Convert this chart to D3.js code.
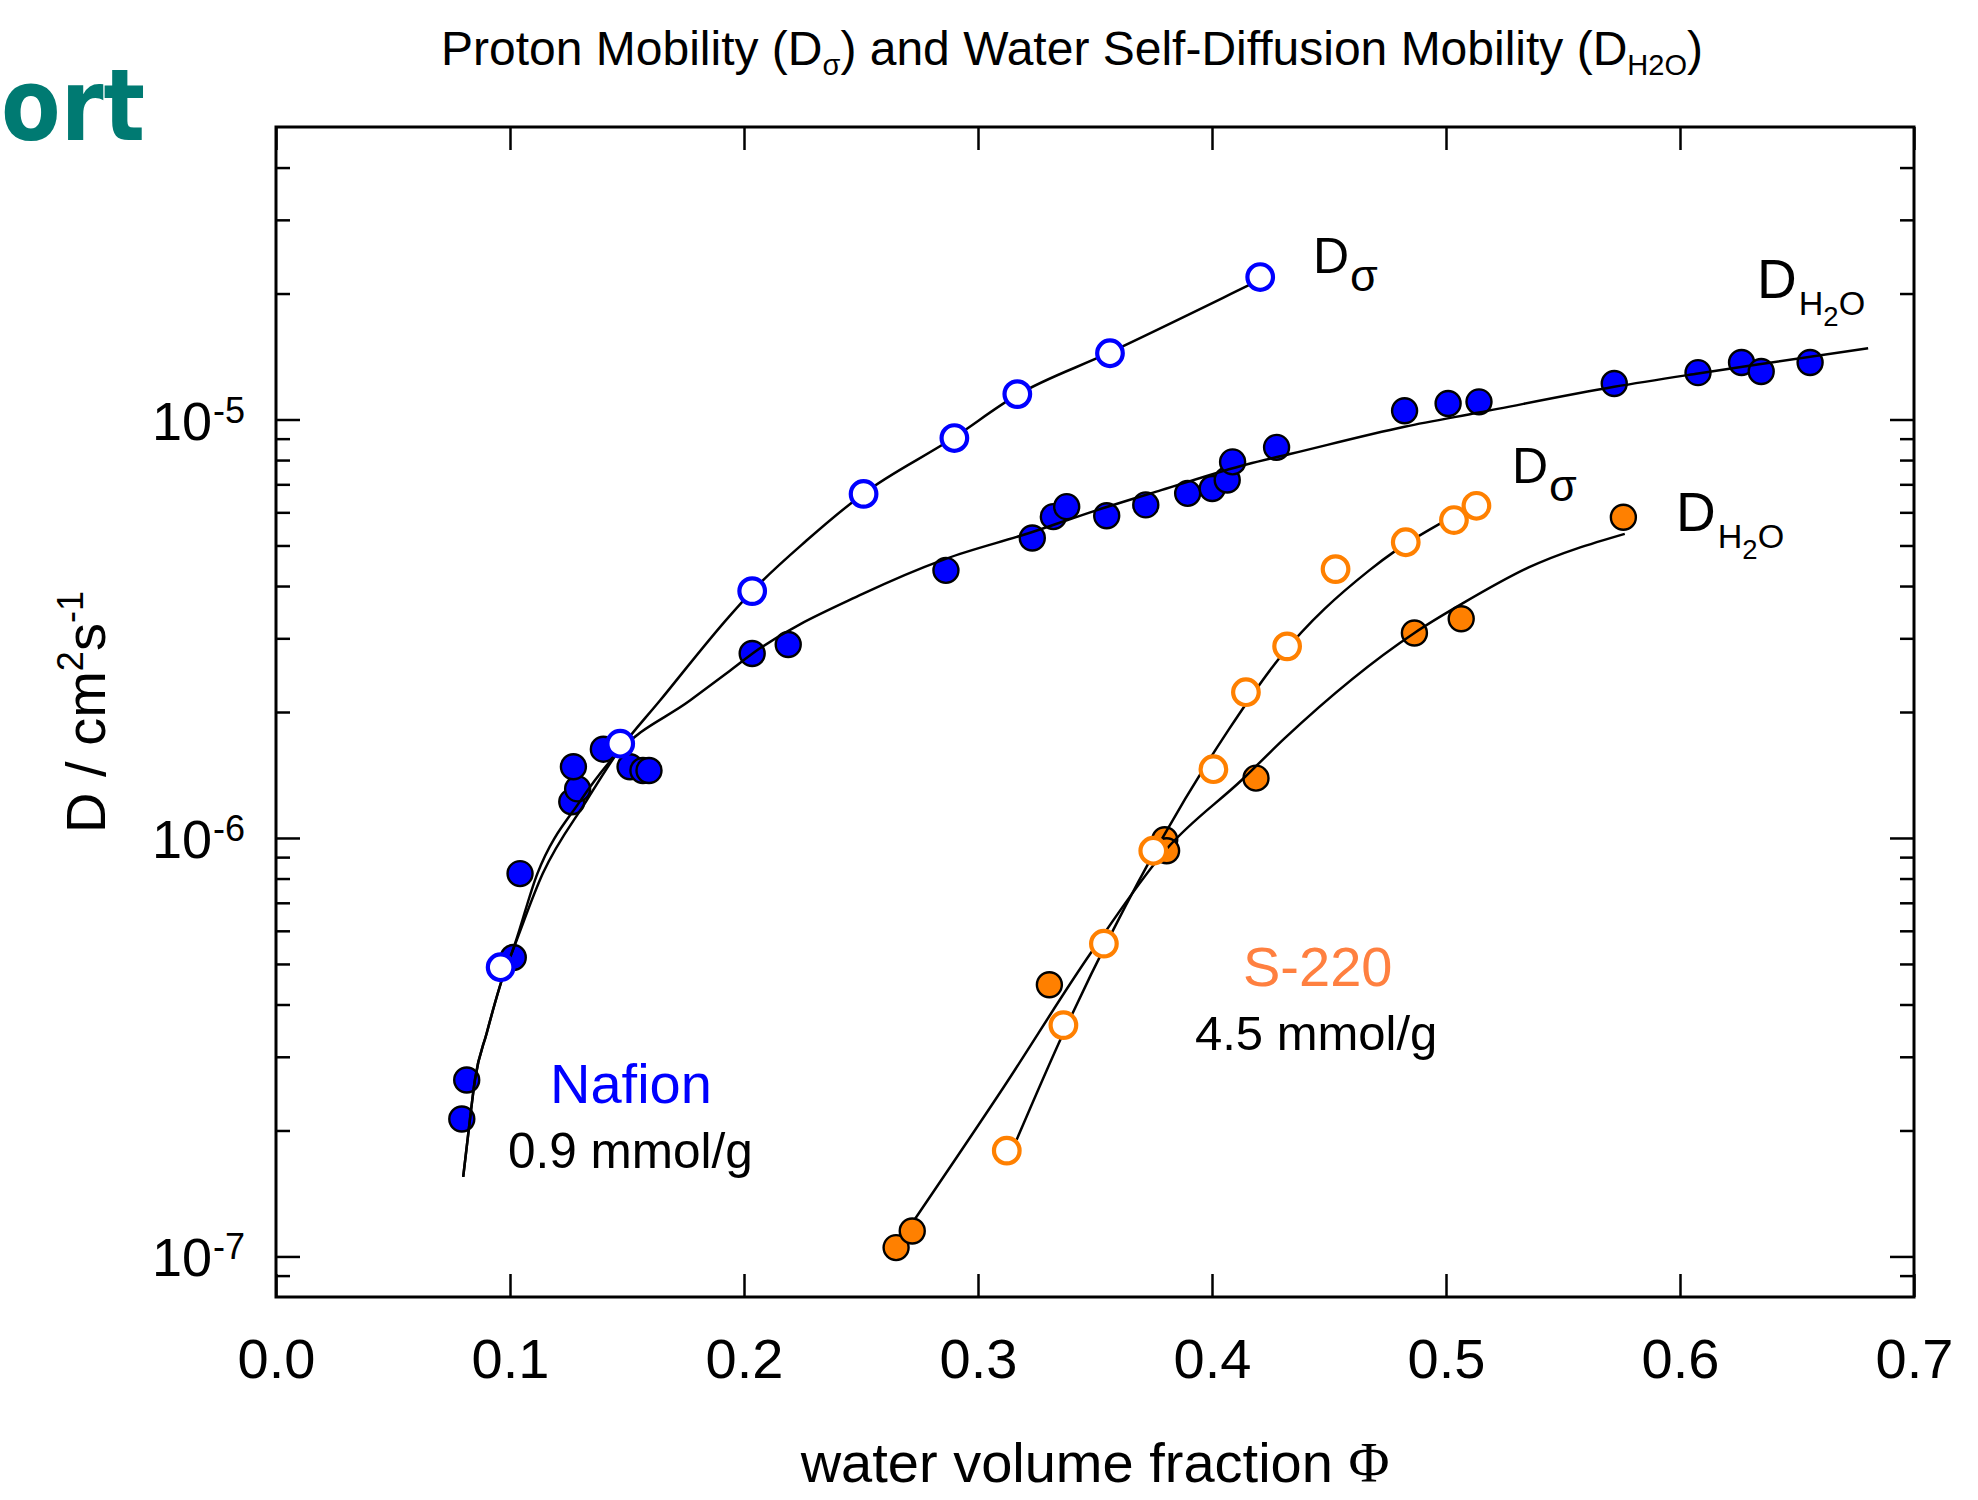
<!DOCTYPE html>
<html><head><meta charset="utf-8">
<script src="https://cdn.jsdelivr.net/npm/d3@7"></script>
<style>body{margin:0;background:#fff} svg{display:block}</style>
</head><body>
<svg id="chart" width="1978" height="1500"></svg>
<script>
// ---------- data ----------
const xTickValues = [0.0, 0.1, 0.2, 0.3, 0.4, 0.5, 0.6, 0.7];
const xTickLabels = ["0.0", "0.1", "0.2", "0.3", "0.4", "0.5", "0.6", "0.7"];
const yMajorValues = [1e-7, 1e-6, 1e-5];
const yMajorExponents = ["-7", "-6", "-5"];
const yMinorMultipliers = [2, 3, 4, 5, 6, 7, 8, 9];
const yDecades = [1e-8, 1e-7, 1e-6, 1e-5];

// Nafion 0.9 mmol/g : proton mobility D_sigma (open) and water D_H2O (filled)
const nafionSigma = [
  [0.0960, 4.91e-7], [0.1471, 1.68e-6], [0.2035, 3.89e-6], [0.2511, 6.64e-6],
  [0.2899, 9.03e-6], [0.3168, 1.15e-5], [0.3564, 1.44e-5], [0.4206, 2.19e-5]
];
const nafionWater = [
  [0.0794, 2.13e-7], [0.0815, 2.64e-7], [0.1014, 5.18e-7], [0.1043, 8.22e-7],
  [0.1264, 1.22e-6], [0.1289, 1.31e-6], [0.1271, 1.48e-6], [0.1399, 1.63e-6],
  [0.1513, 1.48e-6], [0.1568, 1.45e-6], [0.1594, 1.45e-6], [0.2035, 2.76e-6],
  [0.2189, 2.90e-6], [0.2863, 4.36e-6], [0.3232, 5.21e-6], [0.3322, 5.86e-6],
  [0.3379, 6.19e-6], [0.3550, 5.89e-6], [0.3717, 6.25e-6], [0.3896, 6.66e-6],
  [0.4001, 6.84e-6], [0.4065, 7.17e-6], [0.4088, 7.92e-6], [0.4276, 8.58e-6],
  [0.4823, 1.049e-5], [0.5009, 1.092e-5], [0.5141, 1.102e-5], [0.5719, 1.219e-5],
  [0.6077, 1.294e-5], [0.6263, 1.368e-5], [0.6347, 1.302e-5], [0.6556, 1.368e-5]
];
// S-220 4.5 mmol/g
const s220Sigma = [
  [0.3123, 1.79e-7], [0.3365, 3.57e-7], [0.3538, 5.59e-7], [0.3749, 9.32e-7],
  [0.4006, 1.46e-6], [0.4145, 2.23e-6], [0.4321, 2.87e-6], [0.4528, 4.39e-6],
  [0.4828, 5.09e-6], [0.5034, 5.75e-6], [0.5130, 6.22e-6]
];
const s220Water = [
  [0.2650, 1.05e-7], [0.2719, 1.15e-7], [0.3305, 4.46e-7], [0.3798, 9.90e-7],
  [0.3806, 9.32e-7], [0.4188, 1.39e-6], [0.4865, 3.09e-6], [0.5065, 3.34e-6],
  [0.5758, 5.84e-6]
];

// fitted curves
const nafionSigmaFit = [
  [0.0800, 1.55e-7], [0.0829, 2.13e-7], [0.0850, 2.64e-7], [0.0900, 3.41e-7],
  [0.0983, 4.90e-7], [0.1007, 5.30e-7], [0.1140, 8.22e-7], [0.1328, 1.23e-6],
  [0.1456, 1.59e-6], [0.1641, 2.13e-6], [0.1940, 3.40e-6], [0.2035, 3.89e-6],
  [0.2266, 5.13e-6], [0.2509, 6.64e-6], [0.2894, 9.03e-6], [0.3162, 1.14e-5],
  [0.3556, 1.44e-5], [0.4151, 2.085e-5], [0.4185, 2.13e-5]
];
const nafionWaterFit = [
  [0.0800, 1.55e-7], [0.0829, 2.13e-7], [0.0850, 2.64e-7], [0.0900, 3.41e-7],
  [0.0983, 4.90e-7], [0.1007, 5.30e-7], [0.1117, 8.22e-7], [0.1302, 1.23e-6],
  [0.1456, 1.59e-6], [0.1769, 2.13e-6], [0.1940, 2.51e-6], [0.2035, 2.755e-6],
  [0.2507, 3.83e-6], [0.2859, 4.64e-6], [0.3226, 5.37e-6], [0.3499, 6.05e-6],
  [0.3783, 6.78e-6], [0.4151, 7.82e-6], [0.4333, 8.27e-6], [0.4823, 9.61e-6],
  [0.5141, 1.039e-5], [0.5719, 1.197e-5], [0.6077, 1.288e-5], [0.6361, 1.361e-5],
  [0.6804, 1.48e-5]
];
const s220SigmaFit = [
  [0.3165, 1.90e-7], [0.3365, 3.42e-7], [0.3578, 6.03e-7], [0.3791, 1.006e-6],
  [0.4070, 1.81e-6], [0.4290, 2.70e-6], [0.4672, 4.36e-6], [0.4785, 4.86e-6],
  [0.4984, 5.68e-6]
];
const s220WaterFit = [
  [0.2731, 1.23e-7], [0.3108, 2.53e-7], [0.3479, 5.28e-7], [0.3806, 9.41e-7],
  [0.4134, 1.387e-6], [0.4310, 1.73e-6], [0.4865, 3.09e-6], [0.5069, 3.63e-6],
  [0.5353, 4.43e-6], [0.5764, 5.33e-6]
];

// ---------- drawing ----------
const FONT = "'Liberation Sans', Arial, Helvetica, sans-serif";
const BLUE = "#0000ff", ORANGE = "#ff8000", LABEL_ORANGE = "#ff8040", TEAL = "#007a72";
const L = 276, R = 1914, T = 127, B = 1297;

const svg = d3.select("#chart");
svg.append("rect").attr("width", 1978).attr("height", 1500).attr("fill", "#fff");

const x = d3.scaleLinear().domain([0, 0.7]).range([L, R]);
const y = d3.scaleLog().domain([8e-8, 5e-5]).range([B, T]);

// corner heading fragment (visible part of the slide heading)
svg.append("text").attr("x", 1).attr("y", 140)
  .attr("font-family", "'DejaVu Sans', Verdana, sans-serif").attr("font-weight", "bold")
  .attr("font-size", 100).attr("fill", TEAL)
  .attr("textLength", 144).attr("lengthAdjust", "spacingAndGlyphs").text("ort");

// title
const title = svg.append("text").attr("x", 1072).attr("y", 65).attr("text-anchor", "middle")
  .attr("font-family", FONT).attr("font-size", 48).attr("fill", "#000");
title.append("tspan").text("Proton Mobility (D");
title.append("tspan").attr("font-size", 29).attr("dy", 10).text("σ");
title.append("tspan").attr("dy", -10).text(") and Water Self-Diffusion Mobility (D");
title.append("tspan").attr("font-size", 29).attr("dy", 10).text("H2O");
title.append("tspan").attr("dy", -10).text(")");

// minor tick values
const yMinorValues = [];
yDecades.forEach(dec => yMinorMultipliers.forEach(m => {
  const v = dec * m;
  if (v > 8e-8 && v < 5e-5) yMinorValues.push(v);
}));

function styleAxis(g) {
  g.select(".domain").remove();
  g.selectAll(".tick line").attr("stroke", "#000").attr("stroke-width", 2.5);
}

// bottom axis with labels
svg.append("g").attr("transform", `translate(0,${B})`)
  .call(d3.axisBottom(x).tickValues(xTickValues).tickSize(-23).tickPadding(41)
    .tickFormat((d, i) => xTickLabels[i]))
  .call(styleAxis)
  .call(g => g.selectAll(".tick text").attr("font-family", FONT).attr("font-size", 56).attr("fill", "#000"));
// top axis
svg.append("g").attr("transform", `translate(0,${T})`)
  .call(d3.axisTop(x).tickValues(xTickValues).tickSize(-23).tickFormat(""))
  .call(styleAxis);
// left and right axes
svg.append("g").attr("transform", `translate(${L},0)`)
  .call(d3.axisLeft(y).tickValues(yMajorValues).tickSize(-24).tickFormat("")).call(styleAxis);
svg.append("g").attr("transform", `translate(${L},0)`)
  .call(d3.axisLeft(y).tickValues(yMinorValues).tickSize(-14).tickFormat("")).call(styleAxis);
svg.append("g").attr("transform", `translate(${R},0)`)
  .call(d3.axisRight(y).tickValues(yMajorValues).tickSize(-24).tickFormat("")).call(styleAxis);
svg.append("g").attr("transform", `translate(${R},0)`)
  .call(d3.axisRight(y).tickValues(yMinorValues).tickSize(-14).tickFormat("")).call(styleAxis);

// y tick labels 10^n
const yl = svg.append("g").attr("font-family", FONT).attr("fill", "#000");
yMajorValues.forEach((v, i) => {
  yl.append("text").attr("x", 212).attr("y", y(v) + 20).attr("text-anchor", "end")
    .attr("font-size", 54).text("10");
  yl.append("text").attr("x", 213).attr("y", y(v) + 3).attr("text-anchor", "start")
    .attr("font-size", 36).text(yMajorExponents[i]);
});

// frame
svg.append("rect").attr("x", L).attr("y", T).attr("width", R - L).attr("height", B - T)
  .attr("fill", "none").attr("stroke", "#000").attr("stroke-width", 3);

// axis titles
const xt = svg.append("text").attr("x", (L + R) / 2).attr("y", 1482).attr("text-anchor", "middle")
  .attr("font-family", FONT).attr("font-size", 56).attr("fill", "#000");
xt.append("tspan").text("water volume fraction ");
xt.append("tspan").attr("font-family", "'Liberation Serif', 'Times New Roman', serif").text("Φ");

const ytl = svg.append("text").attr("transform", `translate(105,${(T + B) / 2}) rotate(-90)`)
  .attr("text-anchor", "middle").attr("font-family", FONT).attr("font-size", 56).attr("fill", "#000");
ytl.append("tspan").text("D / cm");
ytl.append("tspan").attr("font-size", 36).attr("dy", -22).text("2");
ytl.append("tspan").attr("dy", 22).text("s");
ytl.append("tspan").attr("font-size", 36).attr("dy", -22).text("-1");

// marks
const line = d3.line().x(d => x(d[0])).y(d => y(d[1])).curve(d3.curveMonotoneX);
const plot = svg.append("g");

function filled(data, color) {
  plot.append("g").selectAll("circle").data(data).join("circle")
    .attr("cx", d => x(d[0])).attr("cy", d => y(d[1])).attr("r", 12.5)
    .attr("fill", color).attr("stroke", "#000").attr("stroke-width", 2.4);
}
function open(data, color) {
  plot.append("g").selectAll("circle").data(data).join("circle")
    .attr("cx", d => x(d[0])).attr("cy", d => y(d[1])).attr("r", 12.8)
    .attr("fill", "#fff").attr("stroke", color).attr("stroke-width", 4.2);
}
filled(nafionWater, BLUE);
filled(s220Water, ORANGE);
[nafionSigmaFit, nafionWaterFit, s220SigmaFit, s220WaterFit].forEach(f => {
  plot.append("path").attr("d", line(f)).attr("fill", "none")
    .attr("stroke", "#000").attr("stroke-width", 2.5);
});
open(nafionSigma, BLUE);
open(s220Sigma, ORANGE);

// in-plot labels
const lab = svg.append("g").attr("font-family", FONT).attr("fill", "#000");
function dSigma(xp, yp, fs) {
  const t = lab.append("text").attr("x", xp).attr("y", yp).attr("font-size", fs);
  t.append("tspan").text("D");
  t.append("tspan").attr("font-size", fs * 0.9).attr("dy", fs * 0.36).attr("dx", 1).text("σ");
}
function dWater(xp, yp, fs) {
  const t = lab.append("text").attr("x", xp).attr("y", yp).attr("font-size", fs);
  t.append("tspan").text("D");
  t.append("tspan").attr("font-size", fs * 0.62).attr("dy", fs * 0.3).attr("dx", 2).text("H");
  t.append("tspan").attr("font-size", fs * 0.5).attr("dy", fs * 0.2).text("2");
  t.append("tspan").attr("font-size", fs * 0.62).attr("dy", -fs * 0.2).text("O");
}
dSigma(1313, 273, 50);
dWater(1757, 298, 55);
dSigma(1512, 483, 50);
dWater(1676, 531, 55);

lab.append("text").attr("x", 550).attr("y", 1103).attr("font-size", 56).attr("fill", BLUE).text("Nafion");
lab.append("text").attr("x", 508).attr("y", 1168).attr("font-size", 49.5).text("0.9 mmol/g");
lab.append("text").attr("x", 1195).attr("y", 1050).attr("font-size", 49).text("4.5 mmol/g");
lab.append("text").attr("x", 1243).attr("y", 986).attr("font-size", 56).attr("fill", LABEL_ORANGE).text("S-220");
</script>
</body></html>
